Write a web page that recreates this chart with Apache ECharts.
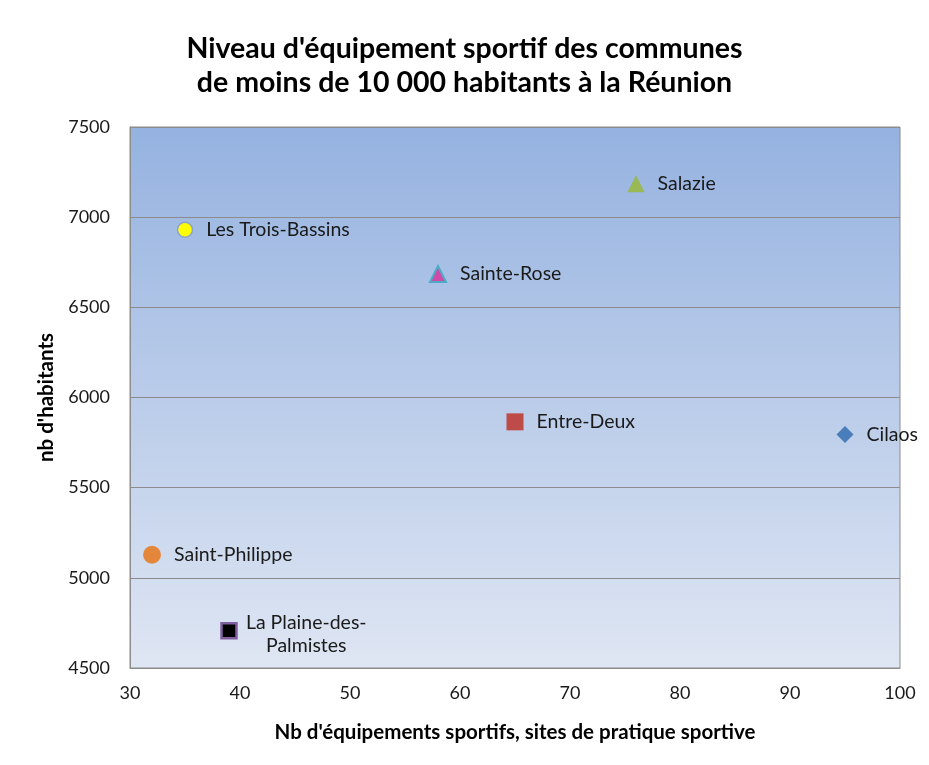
<!DOCTYPE html>
<html>
<head>
<meta charset="utf-8">
<script src="https://cdn.jsdelivr.net/npm/echarts@6/dist/echarts.min.js"></script>
<style>
	html, body { margin: 0; padding: 0; background: #fff; }
	#chart { width: 929px; height: 765px; }
</style>
</head>
<body>
<div id="chart"></div>
<script>
	// communes et valeurs
	const communes = ['Cilaos', 'Entre-Deux', 'Salazie', 'Sainte-Rose', 'Les Trois-Bassins', 'Saint-Philippe', 'La Plaine-des-\nPalmistes']
	const nbEquipements = [95, 65, 76, 58, 35, 32, 39]
	const nbHabitants = [5795, 5865, 7185, 6685, 6930, 5128, 4706]
	const xTicks = [30, 40, 50, 60, 70, 80, 90, 100]
	const yTicks = [4500, 5000, 5500, 6000, 6500, 7000, 7500]

	const markers = [
		{ symbol: 'diamond', size: 17, color: '#4a7ebb', border: '#4a7ebb', bw: 0 },
		{ symbol: 'rect', size: 17, color: '#be4b48', border: '#be4b48', bw: 0 },
		{ symbol: 'triangle', size: 17, color: '#98b954', border: '#98b954', bw: 0 },
		{ symbol: 'triangle', size: 16, color: '#d04aa7', border: '#4bacc6', bw: 2 },
		{ symbol: 'circle', size: 15, color: '#ffff00', border: '#8ea3c8', bw: 1.5 },
		{ symbol: 'circle', size: 18, color: '#e5873b', border: '#e5873b', bw: 0 },
		{ symbol: 'rect', size: 15, color: '#000000', border: '#7f5fa0', bw: 2.5 }
	]

	const series = communes.map(function (nom, i) {
		const m = markers[i]
		return {
			name: nom,
			type: 'scatter',
			symbol: m.symbol,
			symbolSize: m.size,
			itemStyle: { color: m.color, borderColor: m.border, borderWidth: m.bw, opacity: 1 },
			label: {
				show: true,
				formatter: nom,
				position: 'right',
				distance: 13,
				fontFamily: 'Lato',
				fontSize: 19.5,
				lineHeight: 23,
				color: '#1a1a1a'
			},
			data: [[nbEquipements[i], nbHabitants[i]]]
		}
	})
	// La Plaine-des-Palmistes : étiquette sur deux lignes, centrée
	series[6].label.position = [86, 12]
	series[6].label.align = 'center'
	series[6].label.verticalAlign = 'middle'

	const chart = echarts.init(document.getElementById('chart'))
	chart.setOption({
		animation: false,
		title: {
			text: "Niveau d'équipement sportif des communes\nde moins de 10 000 habitants à la Réunion",
			left: 'center',
			top: 27,
			textStyle: {
				fontFamily: 'Lato',
				fontWeight: 'bold',
				fontSize: 28.5,
				lineHeight: 34,
				color: '#000'
			}
		},
		grid: {
			left: 130,
			right: 29,
			top: 127,
			bottom: 97,
			show: true,
			borderColor: '#8c8c8c',
			borderWidth: 1,
			backgroundColor: new echarts.graphic.LinearGradient(0, 0, 0, 1, [
				{ offset: 0, color: '#95b2e0' },
				{ offset: 1, color: '#dfe6f3' }
			])
		},
		xAxis: {
			type: 'value',
			min: xTicks[0],
			max: xTicks[xTicks.length - 1],
			interval: 10,
			name: "Nb d'équipements sportifs, sites de pratique sportive",
			nameLocation: 'middle',
			nameGap: 54,
			nameTextStyle: { fontFamily: 'Lato', fontWeight: 'bold', fontSize: 20.5, color: '#000' },
			axisLine: { show: true, lineStyle: { color: '#8c8c8c' } },
			axisTick: { show: false },
			splitLine: { show: false },
			axisLabel: { fontFamily: 'Lato', fontSize: 18, color: '#1a1a1a', margin: 16 }
		},
		yAxis: {
			type: 'value',
			min: yTicks[0],
			max: yTicks[yTicks.length - 1],
			interval: 500,
			name: "nb d'habitants",
			nameLocation: 'middle',
			nameGap: 67,
			nameTextStyle: { fontFamily: 'Lato', fontWeight: 'bold', fontSize: 20.5, color: '#000' },
			axisLine: { show: true, lineStyle: { color: '#8c8c8c' } },
			axisTick: { show: false },
			splitLine: { show: true, lineStyle: { color: '#8c8c8c', width: 1 } },
			axisLabel: {
				fontFamily: 'Lato',
				fontSize: 18,
				color: '#1a1a1a',
				margin: 20,
				formatter: function (v) { return String(v) }
			}
		},
		series: series
	})
</script>
</body>
</html>
